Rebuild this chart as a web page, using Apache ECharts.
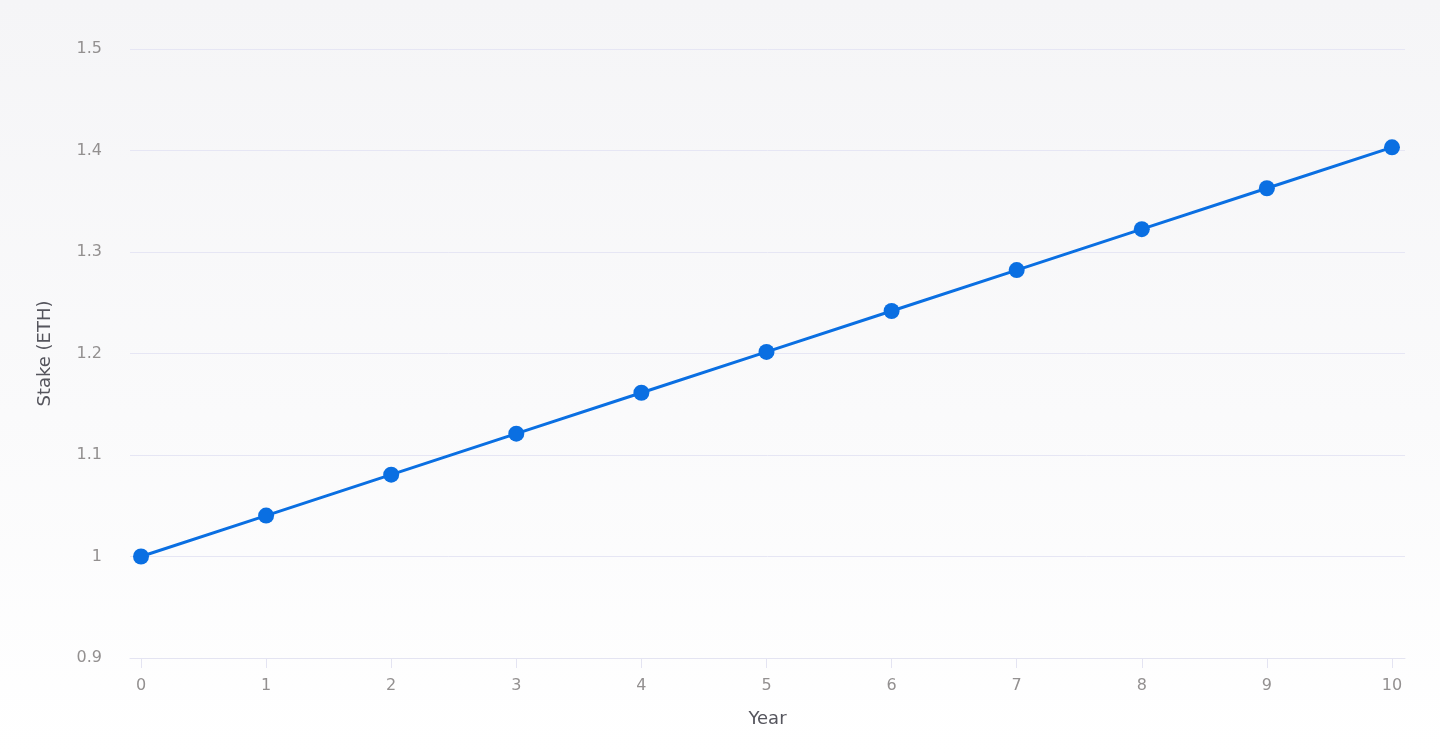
<!DOCTYPE html>
<html>
<head>
<meta charset="utf-8">
<script src="https://cdn.jsdelivr.net/npm/echarts@6/dist/echarts.min.js"></script>
<style>
  html, body { margin: 0; padding: 0; background: #fff; }
  #chart { width: 1440px; height: 754px; }
</style>
</head>
<body>
<div id="chart"></div>
<script>
// data
const years = [0, 1, 2, 3, 4, 5, 6, 7, 8, 9, 10];
const stake = [1.0, 1.0403, 1.0806, 1.121, 1.1613, 1.2016, 1.2419, 1.2822, 1.3225, 1.3628, 1.4031];
const yearTicks = [0, 1, 2, 3, 4, 5, 6, 7, 8, 9, 10];

const font = 'DejaVu Sans, sans-serif';
const chart = echarts.init(document.getElementById('chart'));

const option = {
  backgroundColor: new echarts.graphic.LinearGradient(0, 0, 0, 1, [
    { offset: 0, color: '#f5f5f7' },
    { offset: 0.55, color: '#fafafb' },
    { offset: 1, color: '#ffffff' }
  ]),
  animation: false,
  grid: { left: 130, right: 35, top: 49, bottom: 96, containLabel: false },
  xAxis: {
    type: 'value',
    min: -0.088,
    max: 10.104,
    name: 'Year',
    nameLocation: 'middle',
    nameGap: 52,
    nameTextStyle: { color: '#55555d', fontSize: 18, fontFamily: font },
    axisLine: { show: true, lineStyle: { color: '#e4e4f2', width: 1 } },
    axisTick: { show: true, length: 10, customValues: yearTicks, lineStyle: { color: '#e4e4f2' } },
    axisLabel: { customValues: yearTicks, margin: 20, color: '#939090', fontSize: 16, fontFamily: font },
    splitLine: { show: false }
  },
  yAxis: {
    type: 'value',
    min: 0.9,
    max: 1.5,
    interval: 0.1,
    name: 'Stake (ETH)',
    nameLocation: 'middle',
    nameGap: 76,
    nameTextStyle: { color: '#55555d', fontSize: 18, fontFamily: font },
    axisLine: { show: false },
    axisTick: { show: false },
    axisLabel: { margin: 28, color: '#939090', fontSize: 16, fontFamily: font },
    splitLine: { lineStyle: { color: '#e6e6f4', width: 1 } }
  },
  series: [{
    type: 'line',
    data: years.map((y, i) => [y, stake[i]]),
    symbol: 'circle',
    symbolSize: 16,
    lineStyle: { color: '#0a6fe2', width: 3 },
    itemStyle: { color: '#0a6fe2' }
  }]
};

chart.setOption(option);
</script>
</body>
</html>
